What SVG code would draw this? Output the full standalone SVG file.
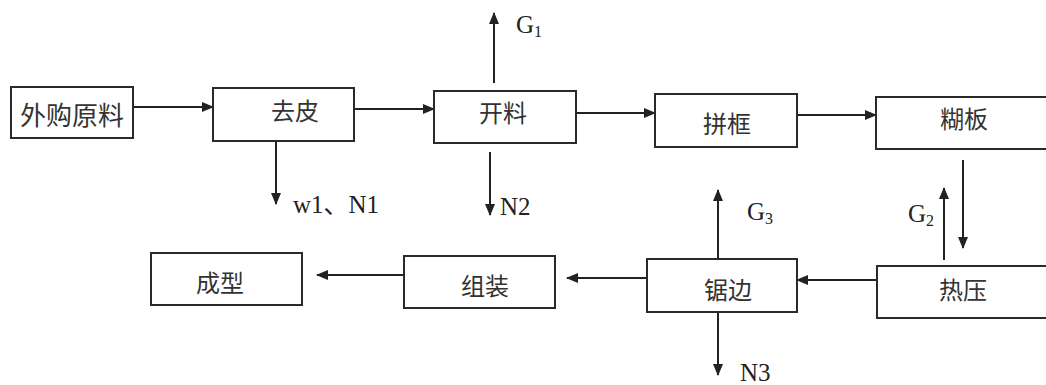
<svg xmlns="http://www.w3.org/2000/svg" width="1046" height="385" viewBox="0 0 1046 385">
<style>
.box{fill:#fff;stroke:#2a2a2a;stroke-width:2}
.t{font-family:"Noto Sans CJK SC","Noto Sans",sans-serif;font-size:24px;fill:#333;text-anchor:middle;dominant-baseline:central}
.lbl{font-family:"Liberation Serif","Noto Sans CJK SC",serif;font-size:25px;fill:#222}
.sub{font-size:16px}
.c{stroke:#222;stroke-width:2;fill:none;marker-end:url(#ah)}
</style>
<defs>
<marker id="ah" markerUnits="userSpaceOnUse" markerWidth="12" markerHeight="10" refX="11" refY="5" orient="auto">
<path d="M0,0 L12,5 L0,10 z" fill="#222"/>
</marker>
</defs>
<rect width="1046" height="385" fill="#fff"/>
<g id="connectors">
<line class="c" x1="133" y1="107" x2="213" y2="107"/>
<line class="c" x1="354" y1="109" x2="434" y2="109"/>
<line class="c" x1="576" y1="113" x2="655" y2="113"/>
<line class="c" x1="797" y1="115" x2="876" y2="115"/>
<line class="c" x1="494" y1="83" x2="494" y2="13"/>
<line class="c" x1="490" y1="152" x2="490" y2="215"/>
<line class="c" x1="276" y1="142" x2="276" y2="204"/>
<line class="c" x1="963" y1="160" x2="963" y2="248"/>
<line class="c" x1="944" y1="260" x2="944" y2="188"/>
<line class="c" x1="877" y1="280" x2="797" y2="280"/>
<line class="c" x1="718" y1="259" x2="718" y2="190"/>
<line class="c" x1="718" y1="312" x2="718" y2="375"/>
<line class="c" x1="647" y1="278" x2="567" y2="278"/>
<line class="c" x1="404" y1="275" x2="317" y2="275"/>
</g>
<g id="n-waigou"><rect class="box" x="11" y="87" width="122" height="51"/><text class="t" x="72" y="113" style="font-size:26px">外购原料</text></g>
<g id="n-qupi"><rect class="box" x="213" y="88" width="141" height="53"/><text class="t" x="295" y="109">去皮</text></g>
<g id="n-kailiao"><rect class="box" x="434" y="91" width="142" height="52"/><text class="t" x="503" y="111">开料</text></g>
<g id="n-pinkuang"><rect class="box" x="655" y="94" width="142" height="53"/><text class="t" x="727" y="122">拼框</text></g>
<g id="n-huban"><rect class="box" x="876" y="97" width="180" height="52"/><text class="t" x="964" y="117">糊板</text></g>
<g id="n-reya"><rect class="box" x="877" y="266" width="180" height="52"/><text class="t" x="963" y="288">热压</text></g>
<g id="n-jubian"><rect class="box" x="647" y="259" width="150" height="53"/><text class="t" x="728" y="288">锯边</text></g>
<g id="n-zuzhuang"><rect class="box" x="404" y="256" width="151" height="52"/><text class="t" x="485" y="284">组装</text></g>
<g id="n-chengxing"><rect class="box" x="151" y="253" width="151" height="52"/><text class="t" x="220" y="281">成型</text></g>
<g id="labels">
<text class="lbl" x="516" y="33">G<tspan class="sub" dy="4">1</tspan></text>
<text class="lbl" x="500" y="215">N2</text>
<text class="lbl" x="293" y="213">w1、N1</text>
<text class="lbl" x="908" y="222">G<tspan class="sub" dy="4">2</tspan></text>
<text class="lbl" x="747" y="220">G<tspan class="sub" dy="4">3</tspan></text>
<text class="lbl" x="740" y="381">N3</text>
</g>
</svg>
